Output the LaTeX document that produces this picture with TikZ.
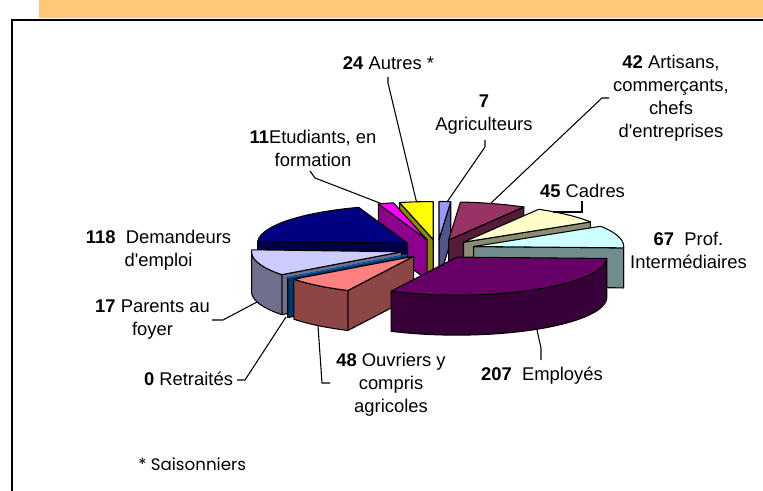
\documentclass[tikz,border=0pt]{standalone}
\usepackage{fontspec}
\setmainfont{Liberation Sans}
\newfontfamily\notefont{Poppins}
\usetikzlibrary{calc}

\definecolor{bandorange}{RGB}{255,199,119}
\definecolor{agri}{HTML}{9999FF}
\definecolor{artisans}{HTML}{993366}
\definecolor{cadres}{HTML}{FFFFCC}
\definecolor{prof}{HTML}{CCFFFF}
\definecolor{employes}{HTML}{660066}
\definecolor{ouvriers}{HTML}{FF8080}
\definecolor{retraites}{HTML}{0066CC}
\definecolor{parents}{HTML}{CCCCFF}
\definecolor{demandeurs}{HTML}{000080}
\definecolor{etudiants}{HTML}{FF00FF}
\definecolor{autres}{HTML}{FFFF00}

% pie: centre, half axes, height, explosion
\newcommand{\pieX}{437.5}
\newcommand{\pieY}{249}
\newcommand{\pieA}{150}
\newcommand{\pieB}{38}
\newcommand{\pieH}{40}
\newcommand{\pieF}{0.25}

% one exploded slice: start angle, end angle (clockwise from 12 o'clock), colour
\newcommand{\drawslice}[3]{%
  \pgfmathsetmacro{\sliceMid}{(#1+#2)/2}
  \pgfmathsetmacro{\apx}{\pieX+\pieF*\pieA*sin(\sliceMid)}
  \pgfmathsetmacro{\apy}{\pieY-\pieF*\pieB*cos(\sliceMid)}
  \coordinate (apex) at (\apx,\apy);
  \coordinate (rimA) at ({\apx+\pieA*sin(#1)},{\apy-\pieB*cos(#1)});
  \coordinate (rimB) at ({\apx+\pieA*sin(#2)},{\apy-\pieB*cos(#2)});
  \pgfmathtruncatemacro{\showA}{sin(#1)<0 ? 1 : 0}
  \pgfmathtruncatemacro{\showB}{sin(#2)>0 ? 1 : 0}
  \pgfmathsetmacro{\arcA}{max(#1,90)}
  \pgfmathsetmacro{\arcB}{min(#2,270)}
  \pgfmathtruncatemacro{\showC}{\arcB>\arcA+0.01 ? 1 : 0}
  \pgfmathtruncatemacro{\showT}{#2>#1+0.01 ? 1 : 0}
  \ifnum\showA=1
    \filldraw[slice, fill=#3!55!black] (apex) -- (rimA) -- ++(0,\pieH) -- ($(apex)+(0,\pieH)$) -- cycle;
  \fi
  \ifnum\showB=1
    \filldraw[slice, fill=#3!55!black] (apex) -- (rimB) -- ++(0,\pieH) -- ($(apex)+(0,\pieH)$) -- cycle;
  \fi
  \ifnum\showC=1
    \filldraw[slice, fill=#3!55!black]
      plot[domain=\arcA:\arcB, samples=40] ({\apx+\pieA*sin(\x)},{\apy-\pieB*cos(\x)})
      -- plot[domain=\arcB:\arcA, samples=40] ({\apx+\pieA*sin(\x)},{\apy-\pieB*cos(\x)+\pieH}) -- cycle;
  \fi
  \ifnum\showT=1
    \filldraw[slice, fill=#3] (apex) -- plot[domain=#1:#2, samples=40] ({\apx+\pieA*sin(\x)},{\apy-\pieB*cos(\x)}) -- cycle;
  \else
    \draw[slice, #3] (apex) -- (rimA);
  \fi
}

\begin{document}
\begin{tikzpicture}[x=0.75pt, y=-0.75pt,
  slice/.style={draw=black, line width=0.8pt, line join=round},
  leader/.style={draw=black, line width=0.8pt},
  lab/.style={align=center, inner sep=0pt, anchor=north, font=\fontsize{13.8}{17.3}\selectfont}]

\useasboundingbox (0,0) rectangle (763,491);
\clip (0,0) rectangle (763,491);
\fill[white] (0,0) rectangle (763,491);

% frame
\fill[bandorange] (39,0) rectangle (763,18.5);
\draw[line width=1.9pt] (12,500) -- (12,20) -- (775,20);

% slices, back to front
\foreach \ta/\tb/\col in {0/4.5/agri, 347/360/autres, 341/347/etudiants, 4.5/30.1/artisans,
    30.1/57.8/cadres, 273/341/demandeurs, 57.8/92/prof, 233/273/parents,
    233/233/retraites, 206/233/ouvriers, 92/206/employes}
  {\drawslice{\ta}{\tb}{\col}}

% labels
\node[lab] (autres) at (388.5,56) {\textbf{24} Autres *};
\node[lab] (agri) at (484,95) {\textbf{7}\\Agriculteurs};
\node[lab] (artisans) at (671,55) {\textbf{42} Artisans,\\commerçants,\\chefs\\d\textquotesingle entreprises};
\node[lab] (cadres) at (582.5,184) {\textbf{45} Cadres};
\node[lab] (prof) at (688.5,232) {\textbf{67}\ \ Prof.\\Intermédiaires};
\node[lab] (employes) at (542,367) {\textbf{207}\ \ Employés};
\node[lab] (ouvriers) at (391,353) {\textbf{48} Ouvriers y\\compris\\agricoles};
\node[lab] (retraites) at (188.5,372) {\textbf{0} Retraités};
\node[lab] (parents) at (152.5,300) {\textbf{17} Parents au\\foyer};
\node[lab] (demandeurs) at (158.5,230) {\textbf{118}\ \ Demandeurs\\d\textquotesingle emploi};
\node[lab] (etudiants) at (313,130) {\textbf{11}Etudiants, en\\formation};
\node[anchor=north west, inner sep=0pt, font=\notefont\fontsize{12.5}{15}\selectfont] (note) at (138,458) {* Saisonniers};

% leader lines
\coordinate (autres-foot) at (388,77);
\coordinate (autres-tip) at (416.5,202);
\coordinate (agri-foot) at (485,140);
\coordinate (agri-tip) at (447,202);
\coordinate (artisans-foot) at (609,98);
\coordinate (artisans-tip) at (490,204);
\coordinate (cadres-foot) at (582,201);
\coordinate (cadres-tip) at (553,212);
\coordinate (employes-tip) at (537,330);
\coordinate (employes-foot) at (541,360);
\coordinate (ouvriers-tip) at (318,326);
\coordinate (ouvriers-foot) at (330,383);
\coordinate (retraites-foot) at (237,380);
\coordinate (retraites-tip) at (286,317);
\coordinate (parents-foot) at (212,320);
\coordinate (parents-tip) at (257,302);
\coordinate (etudiants-foot) at (310,171);
\coordinate (etudiants-tip) at (381,203.5);

\draw[leader] (autres-foot) -- ++(0,6) -- (autres-tip);
\draw[leader] (agri-foot) -- ++(0,7) -- (agri-tip);
\draw[leader] (artisans-foot) -- ++(-7,0) -- (artisans-tip);
\draw[leader] (cadres-foot) -- ++(0,11) -- (cadres-tip);
\draw[leader] (employes-tip) -- ++(4,18) -- (employes-foot);
\draw[leader] (ouvriers-tip) -- ++(4,57) -- (ouvriers-foot);
\draw[leader] (retraites-foot) -- ++(8,0) -- (retraites-tip);
\draw[leader] (parents-foot) -- ++(11,0) -- (parents-tip);
\draw[leader] (etudiants-foot) -- ++(5,7) -- (etudiants-tip);

\end{tikzpicture}
\end{document}
